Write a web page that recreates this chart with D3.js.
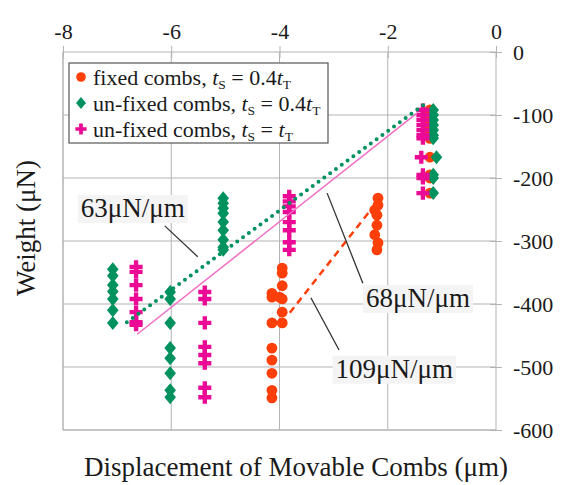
<!DOCTYPE html>
<html>
<head>
<meta charset="utf-8">
<script src="https://cdn.jsdelivr.net/npm/d3@7"></script>
<style>
  body { margin: 0; background: #fff; }
  text { font-family: "Liberation Serif", "Times New Roman", serif; fill: #1a1a1a; }
</style>
</head>
<body>
<div id="chart"></div>
<script>
// data (displacement in um, weight in uN)

var fixedDisp   = [-3.95, -3.95, -3.95, -3.95, -3.95, -3.95, -4.14, -4.14, -4.14, -4.14, -4.14, -4.14, -4.14, -4.14, -4.0,
                   -2.18, -2.18, -2.24, -2.2, -2.2, -2.24, -2.18, -2.2,
                   -1.22, -1.22, -1.22, -1.22, -1.22, -1.22, -1.22, -1.22, -1.22, -1.22, -1.22];
var fixedWeight = [-343, -351, -371, -392, -413, -430, -383, -389, -430, -470, -489, -510, -537, -549, -389,
                   -232, -243, -251, -259, -275, -290, -303, -314,
                   -92, -100, -108, -116, -124, -132, -137, -167, -195, -200, -224];

var greenDisp   = [-7.08, -7.08, -7.08, -7.08, -7.08, -7.08, -7.08,
                   -6.02, -6.02, -6.02, -6.02, -6.02, -6.02, -6.02, -6.02,
                   -5.04, -5.04, -5.04, -5.04, -5.04, -5.04, -5.04, -5.04, -5.04,
                   -1.16, -1.16, -1.16, -1.16, -1.16, -1.16, -1.16, -1.10, -1.16, -1.16, -1.16];
var greenWeight = [-345, -355, -370, -380, -392, -410, -430,
                   -381, -392, -430, -470, -486, -510, -537, -548,
                   -232, -240, -248, -256, -270, -283, -298, -310, -314,
                   -92, -100, -108, -116, -124, -132, -137, -167, -195, -200, -224];

var pinkDisp    = [-6.65, -6.65, -6.65, -6.65, -6.65, -6.65, -6.65,
                   -5.38, -5.38, -5.38, -5.38, -5.38, -5.38, -5.38, -5.38,
                   -3.82, -3.82, -3.82, -3.82, -3.82, -3.82, -3.82, -3.82,
                   -1.35, -1.35, -1.35, -1.35, -1.35, -1.35, -1.35, -1.38, -1.35, -1.35, -1.35];
var pinkWeight  = [-341, -349, -370, -392, -413, -429, -433,
                   -381, -392, -430, -468, -481, -494, -533, -548,
                   -229, -237, -245, -254, -270, -283, -302, -314,
                   -92, -100, -108, -116, -124, -132, -137, -167, -195, -200, -224];

// linear fits: [start, end] as [disp, weight]
var greenFit = [[-6.82, -429], [-1.26, -79]];
var pinkFit  = [[-6.63, -448], [-1.46, -97]];
var fixedFit = [[-3.81, -414], [-2.2, -238]];

var xTicks = [-8, -6, -4, -2, 0];
var yTicks = [0, -100, -200, -300, -400, -500, -600];

// slope labels: text, label centre, leader start, leader end
var slopeLabels = ["63\u03bcN/\u03bcm", "68\u03bcN/\u03bcm", "109\u03bcN/\u03bcm"];
var labelAt  = [[-6.71, -262], [-1.44, -405], [-1.88, -517]];
var leaderA  = [[-6.12, -276], [-3.12, -224], [-3.42, -390]];
var leaderB  = [[-5.51, -325], [-2.46, -367], [-2.90, -473]];

// settings

var svgWidth = 563, svgHeight = 485;
var plot = { left: 63, right: 496, top: 52, bottom: 430 };

var orange = "#ff3f0a", green = "#00925e", pink = "#ea0a96";
var gridColor = "#b3b3b3";

var svg = d3.select("#chart").append("svg")
  .attr("width", svgWidth)
  .attr("height", svgHeight);

var x = d3.scaleLinear().domain([-8, 0]).range([plot.left, plot.right]);
var y = d3.scaleLinear().domain([0, -600]).range([plot.top, plot.bottom]);

// grid

svg.append("g").selectAll("line")
  .data(yTicks.filter(d => d !== 0))
  .enter().append("line")
  .attr("x1", plot.left).attr("x2", plot.right)
  .attr("y1", d => y(d)).attr("y2", d => y(d))
  .attr("stroke", gridColor);

svg.append("g").selectAll("line")
  .data(xTicks.filter(d => d !== 0))
  .enter().append("line")
  .attr("x1", d => x(d)).attr("x2", d => x(d))
  .attr("y1", plot.top).attr("y2", plot.bottom)
  .attr("stroke", gridColor);

// axes: x on top, y on the right, ticks crossing the line

var plain = d => String(d);   // keep the plain hyphen like the original

var topAxis = svg.append("g")
  .attr("transform", `translate(0, ${plot.top})`)
  .call(d3.axisTop(x).tickValues(xTicks).tickSize(6).tickFormat(plain));
topAxis.selectAll(".tick line").attr("y2", 6).attr("y1", -6);

var rightAxis = svg.append("g")
  .attr("transform", `translate(${plot.right}, 0)`)
  .call(d3.axisRight(y).tickValues(yTicks).tickSize(6).tickFormat(plain));
rightAxis.selectAll(".tick line").attr("x1", -6).attr("x2", 6);

[topAxis, rightAxis].forEach(function (a) {
  a.select(".domain").remove();
  a.selectAll(".tick line").attr("stroke", gridColor);
  a.selectAll(".tick text")
    .attr("font-size", 22)
    .attr("fill", "#1a1a1a");
});
topAxis.selectAll(".tick text").attr("y", -13);
rightAxis.selectAll(".tick text").attr("x", 17);

// frame
svg.append("rect")
  .attr("x", plot.left).attr("y", plot.top)
  .attr("width", plot.right - plot.left).attr("height", plot.bottom - plot.top)
  .attr("fill", "none").attr("stroke", gridColor);

// markers

var diamond = "M0,-7L5.8,0L0,7L-5.8,0Z";
var cross = d3.symbol().type(d3.symbolCross).size(95);

svg.append("g").selectAll("circle")
  .data(d3.zip(fixedDisp, fixedWeight))
  .enter().append("circle")
  .attr("cx", d => x(d[0]))
  .attr("cy", d => y(d[1]))
  .attr("r", 5.4)
  .attr("fill", orange);

svg.append("g").selectAll("path")
  .data(d3.zip(greenDisp, greenWeight))
  .enter().append("path")
  .attr("d", diamond)
  .attr("transform", d => `translate(${x(d[0])}, ${y(d[1])})`)
  .attr("fill", green);

svg.append("g").selectAll("path")
  .data(d3.zip(pinkDisp, pinkWeight))
  .enter().append("path")
  .attr("d", cross)
  .attr("transform", d => `translate(${x(d[0])}, ${y(d[1])})`)
  .attr("fill", pink);

// fit lines

var line = d3.line().x(d => x(d[0])).y(d => y(d[1]));

svg.append("path").datum(pinkFit)
  .attr("d", line).attr("fill", "none")
  .attr("stroke", "#f26cc4").attr("stroke-width", 1.5);

svg.append("path").datum(greenFit)
  .attr("d", line).attr("fill", "none")
  .attr("stroke", green).attr("stroke-width", 4)
  .attr("stroke-linecap", "round")
  .attr("stroke-dasharray", "0 7.2");

svg.append("path").datum(fixedFit)
  .attr("d", line).attr("fill", "none")
  .attr("stroke", orange).attr("stroke-width", 2.5)
  .attr("stroke-dasharray", "7 5");

// slope labels with leaders

slopeLabels.forEach(function (s, i) {
  svg.append("line")
    .attr("x1", x(leaderA[i][0])).attr("y1", y(leaderA[i][1]))
    .attr("x2", x(leaderB[i][0])).attr("y2", y(leaderB[i][1]))
    .attr("stroke", "#333").attr("stroke-width", 1.3);

  var g = svg.append("g");
  var t = g.append("text")
    .attr("x", x(labelAt[i][0]))
    .attr("y", y(labelAt[i][1]))
    .attr("text-anchor", "middle")
    .attr("font-size", 27)
    .text(s);
  var b = t.node().getBBox();
  g.insert("rect", "text")
    .attr("x", b.x - 3).attr("y", b.y + 2)
    .attr("width", b.width + 6).attr("height", b.height - 2)
    .attr("fill", "#f4f4f4");
});

// legend

var legend = svg.append("g");
legend.append("rect")
  .attr("x", 69).attr("y", 63)
  .attr("width", 259).attr("height", 80)
  .attr("fill", "#fff")
  .attr("stroke", "#555").attr("stroke-width", 1.2);

var legendNames = ["fixed combs, ", "un-fixed combs, ", "un-fixed combs, "];
var legendTail  = [["0.4", "T"], ["0.4", "T"], ["", "T"]];
var rowY = [77, 103, 129];

legend.append("circle").attr("cx", 81).attr("cy", rowY[0]).attr("r", 4.8).attr("fill", orange);
legend.append("path").attr("d", "M0,-6L5,0L0,6L-5,0Z")
  .attr("transform", `translate(81, ${rowY[1]})`).attr("fill", green);
legend.append("path").attr("d", d3.symbol().type(d3.symbolCross).size(70))
  .attr("transform", `translate(81, ${rowY[2]})`).attr("fill", pink);

legendNames.forEach(function (n, i) {
  var t = legend.append("text")
    .attr("x", 93).attr("y", rowY[i] + 8)
    .attr("font-size", 22);
  t.append("tspan").text(n);
  t.append("tspan").attr("font-style", "italic").text("t");
  t.append("tspan").attr("font-size", 13.5).attr("dy", 4).text("S");
  t.append("tspan").attr("dy", -4).text(" = " + legendTail[i][0]);
  t.append("tspan").attr("font-style", "italic").text("t");
  t.append("tspan").attr("font-size", 13.5).attr("dy", 4).text(legendTail[i][1]);
});

// axis titles

svg.append("text")
  .attr("x", 296).attr("y", 476)
  .attr("text-anchor", "middle")
  .attr("font-size", 27)
  .text("Displacement  of Movable Combs (\u03bcm)");

svg.append("text")
  .attr("transform", "translate(35, 228) rotate(-90)")
  .attr("text-anchor", "middle")
  .attr("font-size", 27)
  .text("Weight  (\u03bcN)");
</script>
</body>
</html>
